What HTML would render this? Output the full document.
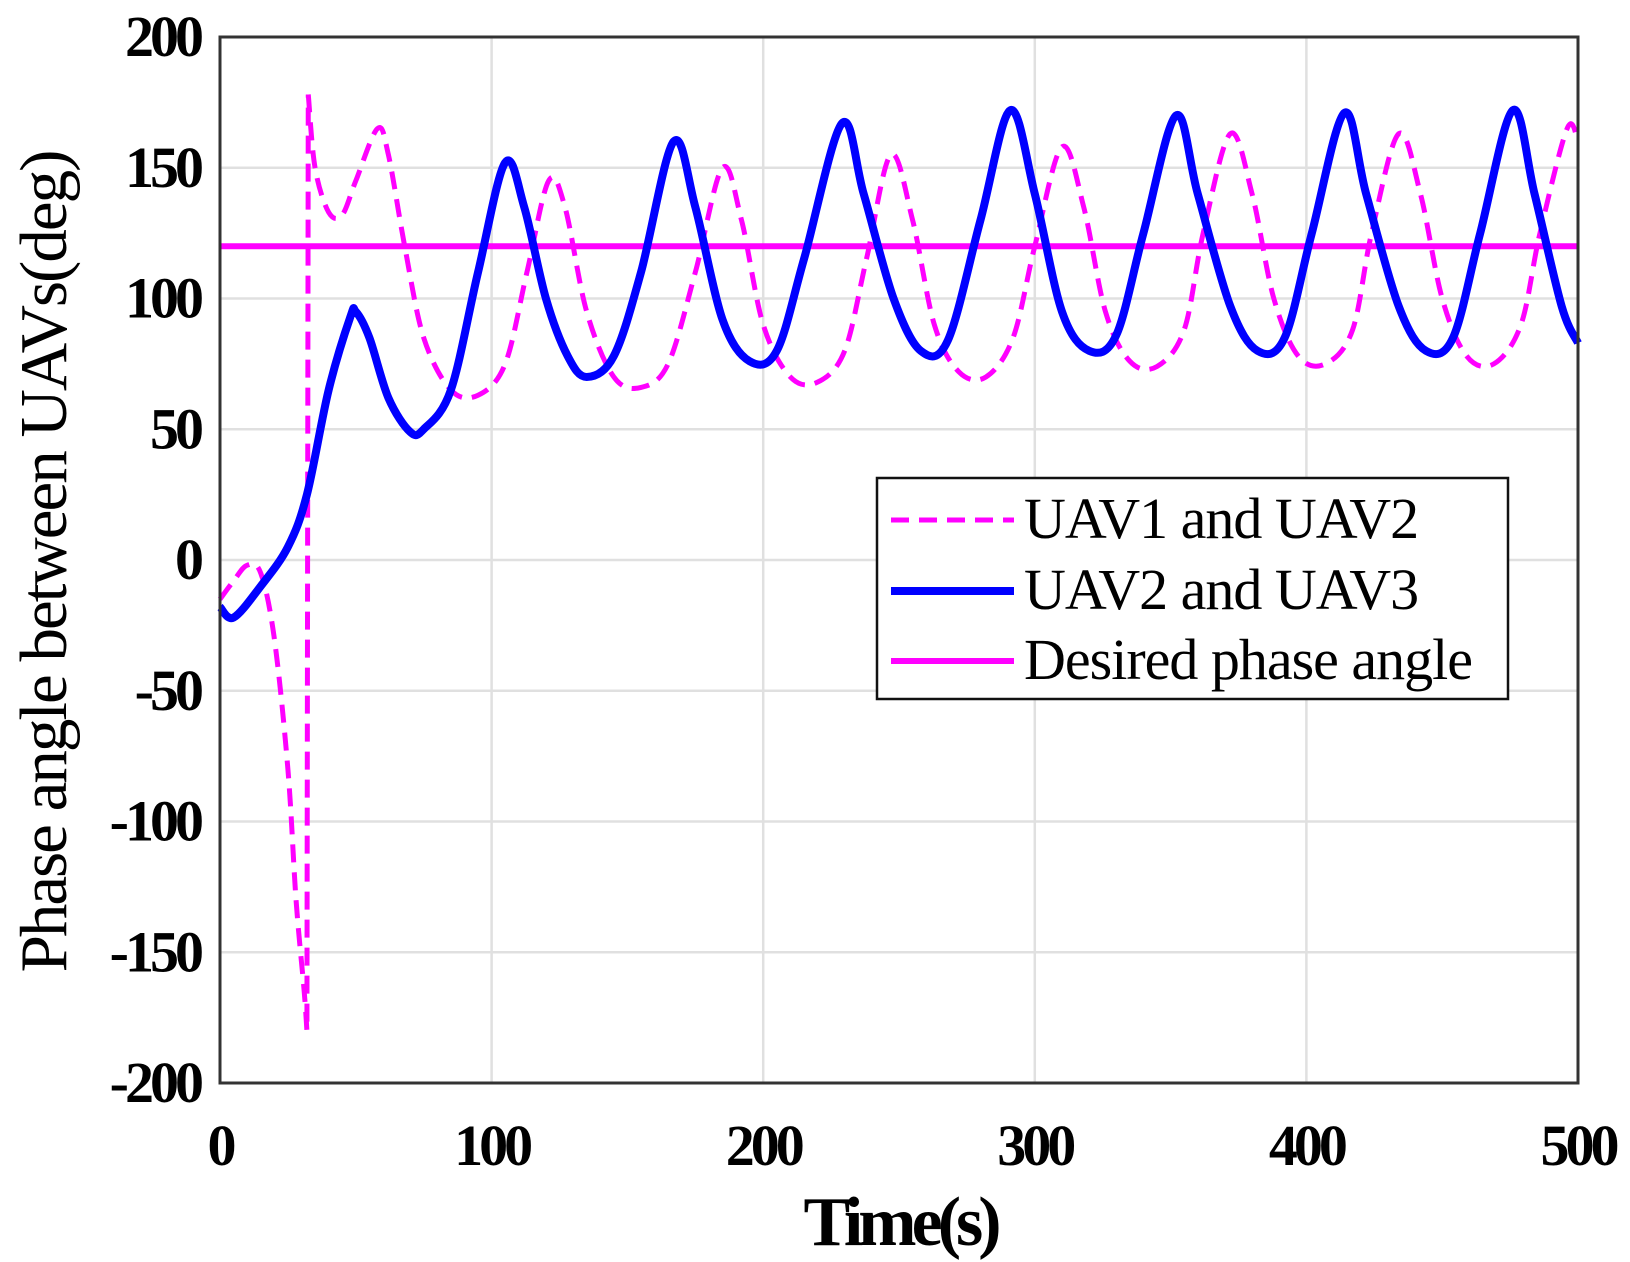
<!DOCTYPE html>
<html><head><meta charset="utf-8"><style>
html,body{margin:0;padding:0;background:#fff;}
svg{display:block;font-family:"Liberation Serif",serif;}
</style></head><body>
<svg id="chart" width="1630" height="1262" viewBox="0 0 1630 1262">
<g id="grid"></g>
<g id="series"></g>
<rect x="220" y="37" width="1358" height="1046" fill="none" stroke="#333" stroke-width="3"/>
<g id="ticks"></g>
<text x="900" y="1245" text-anchor="middle" font-size="70" font-weight="bold" letter-spacing="-5">Time(s)</text>
<text transform="translate(66,562) rotate(-90)" text-anchor="middle" font-size="67" letter-spacing="-2">Phase angle between UAVs(deg)</text>
<g>
<rect x="877" y="478" width="631" height="221" fill="#fff" stroke="#111" stroke-width="2.5"/>
<line x1="891" y1="520" x2="1014" y2="520" stroke="#ff00ff" stroke-width="5" stroke-dasharray="18,10"/>
<text x="1024" y="538" font-size="58" letter-spacing="-1">UAV1 and UAV2</text>
<line x1="891" y1="591" x2="1014" y2="591" stroke="#0000ff" stroke-width="8"/>
<text x="1024" y="609" font-size="58" letter-spacing="-1">UAV2 and UAV3</text>
<line x1="891" y1="661" x2="1014" y2="661" stroke="#ff00ff" stroke-width="6"/>
<text x="1024" y="679" font-size="58" letter-spacing="-1">Desired phase angle</text>
</g>
</svg>
<script>
const xTicks=[0,100,200,300,400,500];
const yTicks=[-200,-150,-100,-50,0,50,100,150,200];
const desired=120;
const blueT=[0,5,15,25,32,40,48,50,55,62,70,75,85,95,105,112,120,128,135,145,155,167,175,185,195,205,215,229,237,248,258,268,280,291,300,310,320,330,340,352,360,372,382,392,402,414,422,434,444,454,464,476,484,494,500];
const blueV=[-18,-22,-10,5,25,65,93,95,85,62,49,50,65,110,152,135,100,78,70,78,110,160,135,92,76,80,115,167,140,100,80,84,130,172,140,95,80,86,125,170,140,97,80,85,125,171,140,97,80,85,125,172,140,97,83];
const magA_T=[0,5,10,15,20,25,28,31,32];
const magA_V=[-15,-8,-2,-5,-30,-80,-130,-165,-180];
const magB_T=[32.5,35,40,45,50,58,62,68,75,85,95,105,113,121,127,135,145,155,165,175,185,192,200,210,220,230,238,247,255,263,272,282,292,300,310,318,326,335,345,355,362,372,380,388,397,407,417,424,434,442,450,459,469,479,486,496,500];
const magB_V=[178,150,133,132,145,165,155,120,85,65,63,75,110,145,135,95,70,66,75,110,150,130,90,70,68,80,115,155,130,90,72,70,85,120,158,135,95,76,74,88,125,163,140,100,78,75,88,125,163,140,100,78,75,90,125,165,160];
const L=220,T=37,R=1578,B=1083,NS="http://www.w3.org/2000/svg";
const xs=t=>L+(t-0)/500*(R-L), ys=v=>B-(v+200)/400*(B-T);
const grid=document.getElementById('grid'),ticks=document.getElementById('ticks'),series=document.getElementById('series');
function mk(tag,attrs,parent){const e=document.createElementNS(NS,tag);for(const k in attrs)e.setAttribute(k,attrs[k]);parent.appendChild(e);return e;}
xTicks.forEach(t=>{
 const g=mk('line',{x1:xs(t),x2:xs(t),y1:T,y2:B,stroke:'#e0e0e0','stroke-width':2.5},grid);
 
 
 const tx=mk('text',{x:xs(t),y:1165,'text-anchor':'middle','font-size':58,'font-weight':'bold','letter-spacing':'-4'},ticks);
 tx.textContent=t;
 
 
});
yTicks.forEach(v=>{
 const g=mk('line',{x1:L,x2:R,y1:ys(v),y2:ys(v),stroke:'#e0e0e0','stroke-width':2.5},grid);
 
 
 const tx=mk('text',{x:200,y:ys(v)+19,'text-anchor':'end','font-size':58,'font-weight':'bold','letter-spacing':'-4'},ticks);
 tx.textContent=v;
 
 
});
function smooth(T_,V_){
 const p=T_.map((t,i)=>[xs(t),ys(V_[i])]);
 let d='M'+p[0][0]+','+p[0][1];
 for(let i=0;i<p.length-1;i++){
  const p0=p[Math.max(i-1,0)],p1=p[i],p2=p[i+1],p3=p[Math.min(i+2,p.length-1)];
  d+=' C'+(p1[0]+(p2[0]-p0[0])/6)+','+(p1[1]+(p2[1]-p0[1])/6)+' '+(p2[0]-(p3[0]-p1[0])/6)+','+(p2[1]-(p3[1]-p1[1])/6)+' '+p2[0]+','+p2[1];
 }
 return d;
}
const d1=mk('line',{x1:L,x2:R,y1:ys(desired),y2:ys(desired),stroke:'#ff00ff','stroke-width':6},series);


const m1=mk('path',{d:smooth(magA_T,magA_V)+' L'+xs(magB_T[0])+','+ys(magB_V[0])+' '+smooth(magB_T,magB_V).slice(1).replace(/^/,'M'),fill:'none',stroke:'#ff00ff','stroke-width':5,'stroke-dasharray':'18,10'},series);


const b1=mk('path',{d:smooth(blueT,blueV),fill:'none',stroke:'#0000ff','stroke-width':8},series);


</script>
</body></html>
